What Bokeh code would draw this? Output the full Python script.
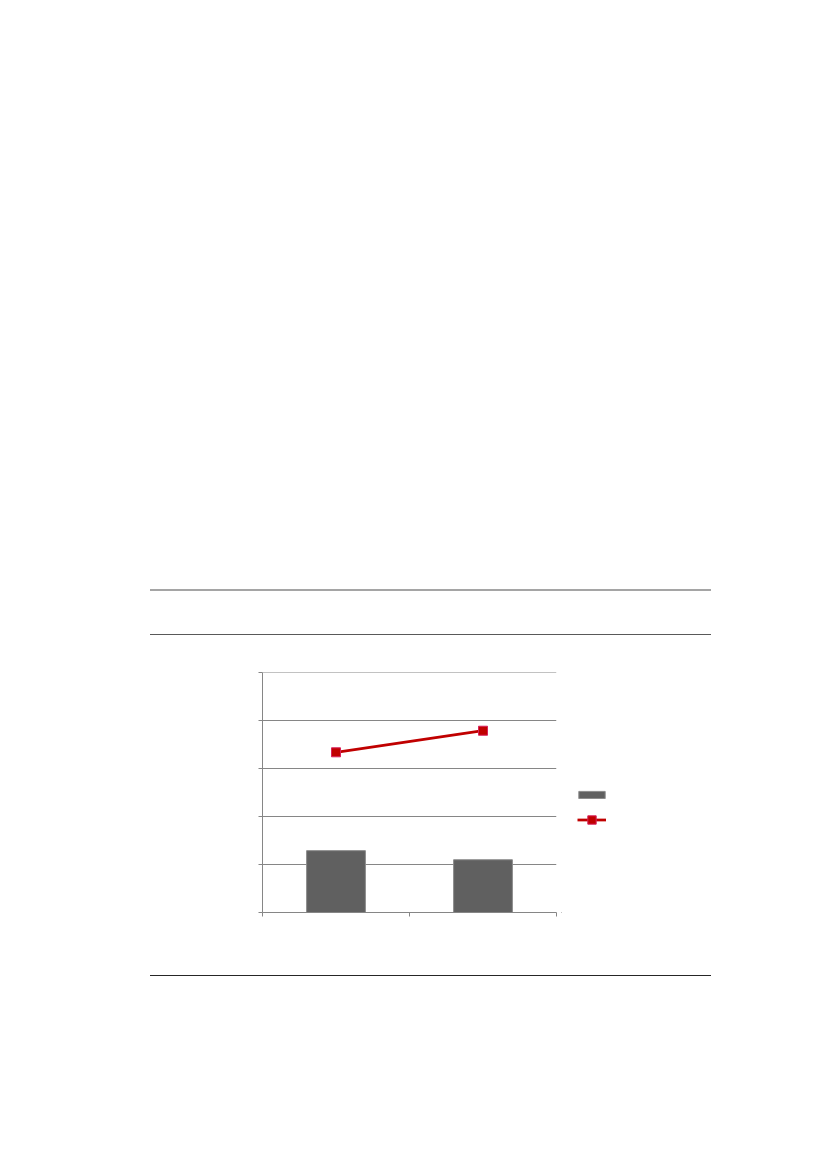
from bokeh.plotting import figure
from bokeh.models import (Range1d, FixedTicker, CustomJSTickFormatter, Legend, LegendItem,
                          ColumnDataSource, Div, Spacer)
from bokeh.layouts import column, row
from bokeh.embed import file_html
from bokeh.resources import INLINE

# ---- data (the chart carries no text) ----
categories = ["Category 1", "Category 2"]
bar_values = [1.29, 1.10]
line_values = [3.34, 3.79]
y_ticks = [0, 1, 2, 3, 4, 5]
x_ticks = [0, 1, 2]

xpos = [i + 0.5 for i in range(len(categories))]
src = ColumnDataSource(dict(x=xpos, cat=categories, bar=bar_values, line=line_values))

BAR_STYLE = dict(fill_color="#606060", line_color="#8c8c8c", line_width=1)
LINE_STYLE = dict(line_color="#c00000", line_width=2.75)
MARK_STYLE = dict(marker="square", size=9, fill_color="#c00000", line_color="#d9215a", line_width=1)

p = figure(width=553, height=340, output_backend="svg", toolbar_location=None,
           x_range=Range1d(0, len(categories)), y_range=Range1d(0, 5.004),
           min_border_left=254, min_border_right=5, min_border_top=37, min_border_bottom=63)
p.outline_line_color = None
p.background_fill_color = "white"
p.border_fill_color = "white"

p.vbar(x="x", top="bar", width=0.4, bottom=0, source=src, **BAR_STYLE)
p.line(x="x", y="line", source=src, **LINE_STYLE)
p.scatter(x="x", y="line", source=src, **MARK_STYLE)

empty = CustomJSTickFormatter(code="return ''")
for ax in (p.xaxis[0], p.yaxis[0]):
    ax.axis_line_color = "#868686"
    ax.major_tick_line_color = "#868686"
    ax.major_tick_in = 0
    ax.major_tick_out = 4
    ax.minor_tick_line_color = None
    ax.formatter = empty
    ax.major_label_standoff = 0
p.xaxis[0].ticker = FixedTicker(ticks=x_ticks)
p.yaxis[0].ticker = FixedTicker(ticks=y_ticks)
p.xgrid.grid_line_color = None
p.ygrid.grid_line_color = "#868686"
p.ygrid.ticker = FixedTicker(ticks=y_ticks)

# ---- legend panel: same series, ranges set out of view, only their legend glyphs show ----
lf = figure(width=150, height=340, output_backend="svg", toolbar_location=None,
            x_range=Range1d(10, 11), y_range=Range1d(10, 11),
            x_axis_type=None, y_axis_type=None,
            min_border_left=0, min_border_right=0, min_border_top=0, min_border_bottom=0)
lf.outline_line_color = None
lf.xgrid.visible = False
lf.ygrid.visible = False
lbars = lf.vbar(x="x", top="bar", width=0.4, bottom=0, source=src, **BAR_STYLE)
lln = lf.line(x="x", y="line", source=src, **LINE_STYLE)
lmk = lf.scatter(x="x", y="line", source=src, **MARK_STYLE)

def mk_legend(items, gw, gh, loc):
    return Legend(items=items, location=loc, glyph_width=gw, glyph_height=gh,
                  label_height=gh, label_width=0, label_standoff=0, padding=0, margin=0,
                  spacing=0, border_line_color=None, background_fill_alpha=0,
                  label_text_font_size="1px")

lf.add_layout(mk_legend([LegendItem(label="", renderers=[lbars])], 33, 9, (14, 113)), "center")
lf.add_layout(mk_legend([LegendItem(label="", renderers=[lln, lmk])], 29, 21, (16, 82)), "center")

rule1 = Div(text="", width=561, height=2, margin=(0, 0, 0, 150),
            styles={"background-color": "#a5a5a5"})
rule2 = Div(text="", width=561, height=1, margin=(0, 0, 0, 150),
            styles={"background-color": "#595959"})
rule3 = Div(text="", width=561, height=1, margin=(0, 0, 0, 150),
            styles={"background-color": "#262626"})

layout = column(Spacer(width=10, height=589), rule1, Spacer(width=10, height=43), rule2,
                row(Spacer(width=8, height=340), p, lf, spacing=0), rule3, spacing=0)

open("out.html", "w").write(file_html(layout, INLINE))
